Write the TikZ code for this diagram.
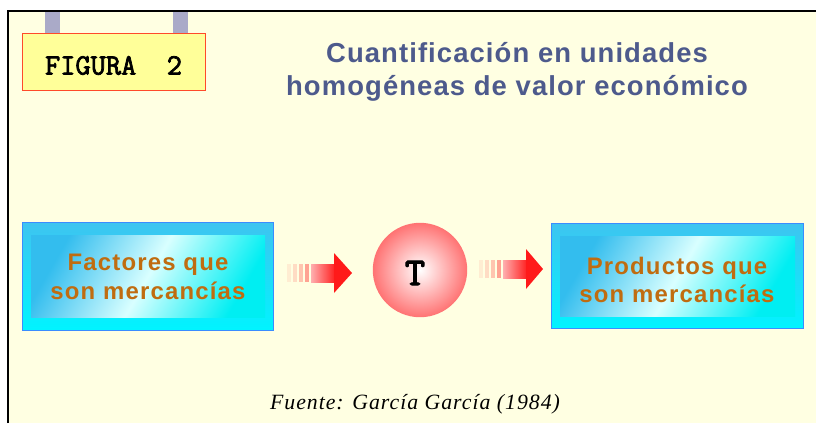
\documentclass[tikz,border=0pt]{standalone}
\usepackage{fontspec}
\setmainfont{Liberation Serif}
\setsansfont{Liberation Sans}
\newfontfamily\negrita[FakeBold=2.5]{Latin Modern Mono}
\usepackage{tikz}
\usetikzlibrary{calc}
\usetikzlibrary{positioning}

\definecolor{fondo}{HTML}{FFFFE2}
\definecolor{tituloazul}{HTML}{4D5A8C}
\definecolor{textonaranja}{HTML}{C06C10}
\definecolor{amarillo}{HTML}{FFFF99}
\definecolor{bordefig}{HTML}{FF4A2A}
\definecolor{pinza}{HTML}{AAAAC8}
\definecolor{bordeazul}{HTML}{3A8CFF}
\definecolor{cianosup}{HTML}{3EC4F0}
\definecolor{cianoinf}{HTML}{00F4FF}
\definecolor{cianoizq}{HTML}{33BDEE}
\definecolor{cianoder}{HTML}{00EEF2}
\definecolor{rojoflecha}{HTML}{FF1A1A}

\begin{document}
\begin{tikzpicture}[x=0.025cm,y=-0.025cm]
            \useasboundingbox (0,0) rectangle (816,423);
            {\sffamily\bfseries

            % Drawing the page
            \fill [white] (0,0) rectangle (816,423);%
            \fill [fondo] (8,11) rectangle (816,423);%
            \draw [line width=0.04cm] (8,423) -- (8,11) -- (816,11);%

            % Marking label FIGURA with its tabs
            \fill [pinza] (45,12) rectangle (60,34);%
            \fill [pinza] (173,12) rectangle (188,34);%
            \draw [bordefig, fill=amarillo, line width=0.025cm] (22,33) rectangle (205,90);%
            \draw (113.5,65.5) node (fig) {\negrita\fontsize{21}{21}\selectfont FIGURA\ \ 2};%

            % Marking title
            \draw (517,72) node (tit) [tituloazul, align=center, font=\fontsize{19.5}{23.4}\selectfont\addfontfeature{LetterSpace=4}]
                {Cuantificación en unidades\\homogéneas de valor económico};%

            % Drawing box of factors
            \draw [bordeazul, top color=cianosup, bottom color=cianoinf, line width=0.025cm] (22,222) rectangle (273,330);%
            \shade [left color=cianoizq, right color=cianoder, middle color=white!85!cyan, shading angle=60] (31,235) rectangle (265,317);%
            \draw (148,277) node (fact) [textonaranja, align=center, font=\fontsize{17}{20.5}\selectfont\addfontfeature{LetterSpace=5}]
                {Factores que\\son mercancías};%

            % Drawing arrow from factors
            \foreach \x/\o in {287/0.08,293/0.15,299/0.25,305/0.4}
                \fill [rojoflecha, opacity=\o] (\x,264) rectangle +(4,18);%
            \shade [left color=rojoflecha!35, right color=rojoflecha] (311,264) rectangle (336,282);%
            \fill [rojoflecha] (334,253) -- (352,273) -- (334,293) -- cycle;%

            % Marking point T by circle
            \shade [inner color=white, outer color=red!55, draw=none] (420,270) circle (1.18cm);%
            \draw (415,273) node (trans) {\negrita\fontsize{28}{28}\selectfont T};%

            % Drawing arrow to products
            \foreach \x/\o in {479/0.08,485/0.15,491/0.25,497/0.4}
                \fill [rojoflecha, opacity=\o] (\x,260) rectangle +(4,18);%
            \shade [left color=rojoflecha!35, right color=rojoflecha] (503,260) rectangle (528,278);%
            \fill [rojoflecha] (526,249) -- (543,269) -- (526,289) -- cycle;%

            % Drawing box of products
            \draw [bordeazul, top color=cianosup, bottom color=cianoinf, line width=0.025cm] (551,223) rectangle (803,328);%
            \shade [left color=cianoizq, right color=cianoder, middle color=white!85!cyan, shading angle=60] (560,236) rectangle (795,316);%
            \draw (677,280) node (prod) [textonaranja, align=center, font=\fontsize{17}{20.5}\selectfont\addfontfeature{LetterSpace=5}]
                {Productos que\\son mercancías};%

            % Marking source
            \draw (415,404) node (fuente) [font=\rmfamily\mdseries\itshape\fontsize{15.5}{15.5}\selectfont\addfontfeature{LetterSpace=4.5}]
                {Fuente: García García (1984)};%
            }
\end{tikzpicture}
\end{document}
